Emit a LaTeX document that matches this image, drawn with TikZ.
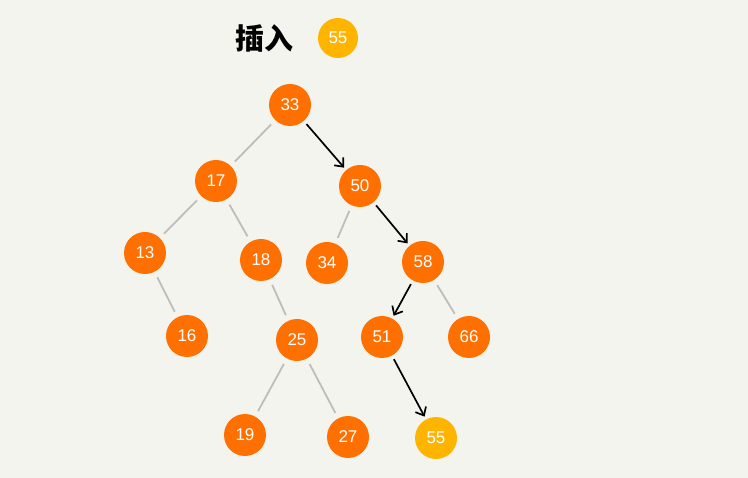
\documentclass[tikz,border=0pt]{standalone}
\usepackage{fontspec}
\setsansfont{Liberation Sans}
\newfontfamily\cjk{Noto Sans CJK SC}
\usepackage{tikz}
\usetikzlibrary{positioning,arrows.meta}

\definecolor{paper}{HTML}{F4F4EF}
\definecolor{bstorange}{HTML}{FF7000}
\definecolor{bstyellow}{HTML}{FFB400}
\definecolor{linkgray}{HTML}{BDBDBA}

\begin{document}
\begin{tikzpicture}[x=1pt,y=-1pt]
	\tikzset{key/.style={circle,fill=bstorange,text=white,minimum size=42pt,inner sep=0pt,font=\sffamily\fontsize{17}{17}\selectfont}}
	\tikzset{newkey/.style={key,fill=bstyellow}}
	\tikzset{link/.style={draw=linkgray,line width=1.8pt,shorten <=6pt,shorten >=6pt}}
	\tikzset{walk/.style={draw=black,line width=1.7pt,-{Straight Barb[length=7pt,width=12pt]},shorten <=4pt,shorten >=3pt}}

	%% background and size
	\fill[paper] (0,0) rectangle (748,478);
	\useasboundingbox (0,0) rectangle (748,478);

	%% title
	\node (title) at (264,38) {\cjk\bfseries\fontsize{29}{29}\selectfont 插入};
	\node[newkey,minimum size=40pt] (ins) at (338,38) {55};

	%% tree
	\node[key] (k33) at (290,105) {33};
	\node[key] (k17) at (216,181) {17};
	\node[key] (k50) at (360,186) {50};
	\node[key] (k13) at (145,253) {13};
	\node[key] (k18) at (261,260) {18};
	\node[key] (k34) at (327,263) {34};
	\node[key] (k58) at (423,262) {58};
	\node[key] (k16) at (187,336) {16};
	\node[key] (k25) at (297,340) {25};
	\node[key] (k51) at (382,337) {51};
	\node[key] (k66) at (469,337) {66};
	\node[key] (k19) at (245,435) {19};
	\node[key] (k27) at (348,437) {27};
	\node[newkey] (k55) at (436,438) {55};

	\path[link]
		(k33) edge (k17)
		(k17) edge (k13)
		(k17) edge (k18)
		(k50) edge (k34)
		(k58) edge (k66)
		(k13) edge (k16)
		(k18) edge (k25)
		(k25) edge (k19)
		(k25) edge (k27);

	%% search path
	\path[walk]
		(k33) edge (k50)
		(k50) edge (k58)
		(k58) edge (k51)
		(k51) edge (k55);
\end{tikzpicture}
\end{document}
